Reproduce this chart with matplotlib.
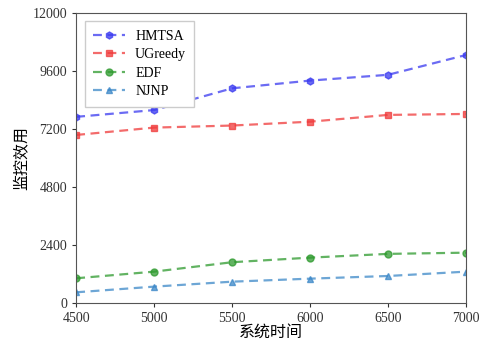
import matplotlib
matplotlib.use("Agg")
import matplotlib.pyplot as plt

# system time (x axis)
times = [4500, 5000, 5500, 6000, 6500, 7000]

# monitoring utility per algorithm
hmtsa = [7700, 7980, 8880, 9200, 9440, 10260]
ugreedy = [6950, 7255, 7340, 7500, 7780, 7820]
edf = [1020, 1295, 1685, 1875, 2030, 2080]
njnp = [440, 675, 880, 1005, 1115, 1295]

yticks = [0, 2400, 4800, 7200, 9600, 12000]
xticks = [4500, 5000, 5500, 6000, 6500, 7000]

plt.rcParams['font.family'] = ['Liberation Serif', 'Noto Sans CJK SC']

fig = plt.figure(figsize=(4.85, 3.4), dpi=100)
ax = fig.add_axes([0.157, 0.109, 0.804, 0.853])

style = dict(linestyle=(0, (4, 2.5)), markersize=5, linewidth=1.6, alpha=0.75)
ax.plot(times, hmtsa, color='#3a3af0', marker='h', label='HMTSA', **style)
ax.plot(times, ugreedy, color='#f03a3a', marker='s', label='UGreedy', **style)
ax.plot(times, edf, color='#2e9a2e', marker='o', label='EDF', **style)
ax.plot(times, njnp, color='#3c88c8', marker='^', label='NJNP', **style)

ax.set_xlim(4500, 7000)
ax.set_ylim(0, 12000)
ax.set_xticks(xticks)
ax.set_yticks(yticks)
ax.tick_params(labelsize=10, length=3, colors='#333333')
for s in ax.spines.values():
    s.set_color('#555555')

ax.set_xlabel('系统时间', fontsize=11.5, family=['Noto Sans CJK SC'], labelpad=-1)
ax.set_ylabel('监控效用', fontsize=11.5, family=['Noto Sans CJK SC'], labelpad=2)

ax.legend(loc='upper left', fontsize=10, handlelength=2.3, handletextpad=0.7,
          labelspacing=0.4, borderpad=0.6, framealpha=1, edgecolor='#cccccc',
          fancybox=False, bbox_to_anchor=(0.005, 0.995))

fig.savefig('out.png', dpi=100)
